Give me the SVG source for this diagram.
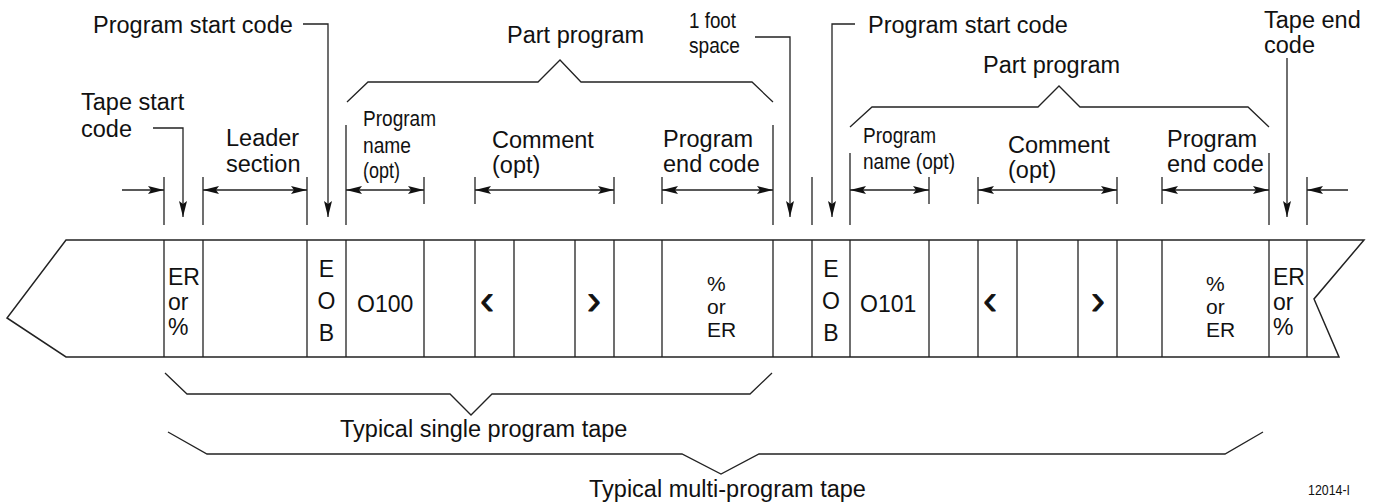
<svg xmlns="http://www.w3.org/2000/svg" width="1376" height="504" viewBox="0 0 1376 504">
<style>
.ln{stroke:#222;stroke-width:1.3;fill:none}
.tp{stroke:#222;stroke-width:1.5;fill:#fff}
.t{font-family:"Liberation Sans",Arial,sans-serif;font-size:23.5px;fill:#111}
.c{font-family:"Liberation Sans",Arial,sans-serif;font-size:22px;fill:#111}
.s{font-family:"Liberation Sans",Arial,sans-serif;font-size:23px;fill:#111}
.k{font-family:"Liberation Sans",Arial,sans-serif;font-size:21px;fill:#111}
.b{font-family:"Liberation Sans",Arial,sans-serif;font-size:42px;fill:#111;stroke:#111;stroke-width:0.8}
.m{text-anchor:middle}
</style>
<defs>
<marker id="ah" markerUnits="userSpaceOnUse" markerWidth="18" markerHeight="10" refX="16" refY="5" orient="auto-start-reverse" viewBox="0 0 18 10">
<path d="M0,1 L16,5 L0,9 L3,5 z" fill="#111"/>
</marker>
</defs>
<rect width="1376" height="504" fill="#fff"/>

<g id="tape">
<path class="tp" d="M66,240 L1364,240 L1314,299 L1339,357 L66,357 L7,318 Z"/>
<path class="ln" d="M164,240V357 M203,240V357 M307,240V357 M346,240V357 M424,240V357 M475,240V357 M514,240V357 M575,240V357 M614,240V357 M662,240V357 M773,240V357 M812,240V357 M850,240V357 M929,240V357 M978,240V357 M1017,240V357 M1078,240V357 M1117,240V357 M1162,240V357 M1269,240V357 M1307,240V357"/>
</g>

<g id="cell-tape-start">
<text class="s" x="168" y="285">ER</text>
<text class="s" x="168" y="310">or</text>
<text class="s" x="168" y="335">%</text>
</g>
<g id="cell-eob-1">
<text class="s m" x="326.5" y="277">E</text>
<text class="s m" x="326.5" y="309">O</text>
<text class="s m" x="326.5" y="341">B</text>
</g>
<g id="cell-name-1"><text class="s" x="357" y="312">O100</text></g>
<g id="cell-open-1"><text class="b m" x="487" y="314">‹</text></g>
<g id="cell-close-1"><text class="b m" x="594" y="314">›</text></g>
<g id="cell-end-1">
<text class="k" x="707" y="291">%</text>
<text class="k" x="707" y="314">or</text>
<text class="k" x="707" y="337">ER</text>
</g>
<g id="cell-eob-2">
<text class="s m" x="831" y="277">E</text>
<text class="s m" x="831" y="309">O</text>
<text class="s m" x="831" y="341">B</text>
</g>
<g id="cell-name-2"><text class="s" x="860" y="312">O101</text></g>
<g id="cell-open-2"><text class="b m" x="990" y="314">‹</text></g>
<g id="cell-close-2"><text class="b m" x="1098" y="314">›</text></g>
<g id="cell-end-2">
<text class="k" x="1206" y="291">%</text>
<text class="k" x="1206" y="314">or</text>
<text class="k" x="1206" y="337">ER</text>
</g>
<g id="cell-tape-end">
<text class="s" x="1273" y="285">ER</text>
<text class="s" x="1273" y="310">or</text>
<text class="s" x="1273" y="335">%</text>
</g>

<g id="connectors">
<path class="ln" d="M164,177V225 M203,177V225 M307,177V225 M346,125V225 M424,177V204 M475,177V204 M614,177V204 M662,177V204 M773,125V225 M812,177V225 M850,153V225 M929,177V204 M978,177V204 M1117,177V204 M1162,177V204 M1269,153V225 M1307,177V225"/>
<path class="ln" d="M122,190H164" marker-end="url(#ah)"/>
<path class="ln" d="M203,190H307" marker-start="url(#ah)" marker-end="url(#ah)"/>
<path class="ln" d="M346,190H424" marker-start="url(#ah)" marker-end="url(#ah)"/>
<path class="ln" d="M475,190H614" marker-start="url(#ah)" marker-end="url(#ah)"/>
<path class="ln" d="M662,190H773" marker-start="url(#ah)" marker-end="url(#ah)"/>
<path class="ln" d="M850,190H929" marker-start="url(#ah)" marker-end="url(#ah)"/>
<path class="ln" d="M978,190H1117" marker-start="url(#ah)" marker-end="url(#ah)"/>
<path class="ln" d="M1162,190H1269" marker-start="url(#ah)" marker-end="url(#ah)"/>
<path class="ln" d="M1348,190H1307" marker-end="url(#ah)"/>
<path class="ln" d="M153,128H183V217" marker-end="url(#ah)"/>
<path class="ln" d="M303,24H328V217" marker-end="url(#ah)"/>
<path class="ln" d="M755,37H790V217" marker-end="url(#ah)"/>
<path class="ln" d="M855,24H832V217" marker-end="url(#ah)"/>
<path class="ln" d="M1287,58V217" marker-end="url(#ah)"/>
<path class="ln" d="M347,102L368,82H538L560,60L581,82H752L773,102"/>
<path class="ln" d="M850,127L872,107H1038L1059,86L1080,107H1248L1269,127"/>
<path class="ln" d="M165,373L187,394H450L471,415L492,394H750L772,373"/>
<path class="ln" d="M168,432L207,454H682L721,474L759,454H1225L1263,432"/>
</g>

<g id="label-tape-start">
<text class="t" x="81" y="110">Tape start</text>
<text class="t" x="81" y="137">code</text>
</g>
<g id="label-program-start-1"><text class="t" x="93" y="33">Program start code</text></g>
<g id="label-leader">
<text class="t" x="226" y="146">Leader</text>
<text class="t" x="226" y="172">section</text>
</g>
<g id="label-name-1">
<text class="c" x="363" y="126" textLength="73" lengthAdjust="spacingAndGlyphs">Program</text>
<text class="c" x="363" y="153" textLength="48" lengthAdjust="spacingAndGlyphs">name</text>
<text class="c" x="363" y="178" textLength="37" lengthAdjust="spacingAndGlyphs">(opt)</text>
</g>
<g id="label-part-1"><text class="t" x="507" y="43">Part program</text></g>
<g id="label-comment-1">
<text class="t" x="492" y="148">Comment</text>
<text class="t" x="492" y="173">(opt)</text>
</g>
<g id="label-end-1">
<text class="t" x="663" y="147">Program</text>
<text class="t" x="663" y="172">end code</text>
</g>
<g id="label-foot">
<text class="c" x="689" y="28" textLength="47" lengthAdjust="spacingAndGlyphs">1 foot</text>
<text class="c" x="689" y="53" textLength="51" lengthAdjust="spacingAndGlyphs">space</text>
</g>
<g id="label-program-start-2"><text class="t" x="868" y="33">Program start code</text></g>
<g id="label-name-2">
<text class="c" x="863" y="143" textLength="73" lengthAdjust="spacingAndGlyphs">Program</text>
<text class="c" x="863" y="169" textLength="92" lengthAdjust="spacingAndGlyphs">name (opt)</text>
</g>
<g id="label-part-2"><text class="t" x="983" y="73">Part program</text></g>
<g id="label-comment-2">
<text class="t" x="1008" y="153">Comment</text>
<text class="t" x="1008" y="178">(opt)</text>
</g>
<g id="label-end-2">
<text class="t" x="1167" y="147">Program</text>
<text class="t" x="1167" y="172">end code</text>
</g>
<g id="label-tape-end">
<text class="t" x="1264" y="28">Tape end</text>
<text class="t" x="1264" y="53">code</text>
</g>
<g id="label-single"><text class="t" x="340" y="437">Typical single program tape</text></g>
<g id="label-multi"><text class="t" x="589" y="497">Typical multi-program tape</text></g>
<g id="label-figno"><text class="c" x="1308" y="495" style="font-size:14px" textLength="42" lengthAdjust="spacingAndGlyphs">12014-I</text></g>
</svg>
